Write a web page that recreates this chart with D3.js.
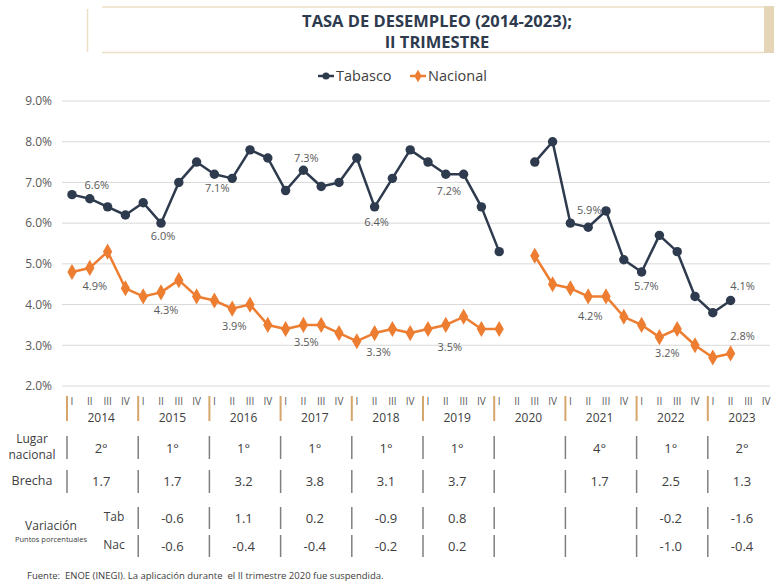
<!DOCTYPE html>
<html><head><meta charset="utf-8">
<script src="https://cdn.jsdelivr.net/npm/d3@7"></script>
<style>
html,body{margin:0;padding:0;background:#fff;}
svg{display:block;font-family:"Open Sans",sans-serif;}
</style></head>
<body><svg id="c" width="774" height="585"></svg>
<script>
// ---------------- data ----------------
const years = [2014,2015,2016,2017,2018,2019,2020,2021,2022,2023];
const quarters = ["I","II","III","IV"];
const tabasco = [
  6.7,6.6,6.4,6.2, 6.5,6.0,7.0,7.5, 7.2,7.1,7.8,7.6, 6.8,7.3,6.9,7.0,
  7.6,6.4,7.1,7.8, 7.5,7.2,7.2,6.4, 5.3,null,7.5,8.0, 6.0,5.9,6.3,5.1,
  4.8,5.7,5.3,4.2, 3.8,4.1,null,null];
const nacional = [
  4.8,4.9,5.3,4.4, 4.2,4.3,4.6,4.2, 4.1,3.9,4.0,3.5, 3.4,3.5,3.5,3.3,
  3.1,3.3,3.4,3.3, 3.4,3.5,3.7,3.4, 3.4,null,5.2,4.5, 4.4,4.2,4.2,3.7,
  3.5,3.2,3.4,3.0, 2.7,2.8,null,null];
const yTicks = [2,3,4,5,6,7,8,9];
const lugar  = ["2°","1°","1°","1°","1°","1°","","4°","1°","2°"];
const brecha = ["1.7","1.7","3.2","3.8","3.1","3.7","","1.7","2.5","1.3"];
const varTab = ["","-0.6","1.1","0.2","-0.9","0.8","","","-0.2","-1.6"];
const varNac = ["","-0.6","-0.4","-0.4","-0.2","0.2","","","-1.0","-0.4"];
const labelYears = [2014,2015,2016,2017,2018,2019,2021,2022,2023];

// label offsets (presentation only)
const tabOff = {2014:[7,-14],2015:[2,13],2016:[-15,10],2017:[3,-12],2018:[2,15],2019:[3,17],2021:[1,-17],2022:[-13,51],2023:[12,-14]};
const nacOff = {2014:[5,18],2015:[5,18],2016:[2,18],2017:[3,17],2018:[4,19],2019:[4,22],2021:[2,20],2022:[8,16],2023:[12,-17]};

// ---------------- drawing ----------------
const svg = d3.select("#c");
const TAB = "#2e3a4d", NAC = "#ed7d31", TXT = "#595959", DARK="#404040";
const keys = [];
years.forEach(y => quarters.forEach(q => keys.push(y + "-" + q)));

const x = d3.scalePoint().domain(keys).range([72, 72 + 39*17.8]);
const y = d3.scaleLinear().domain([2,9]).range([386,101]);

// title frame
const beige = "#ecdfc6";
svg.append("line").attr("x1",87.5).attr("x2",87.5).attr("y1",9).attr("y2",52).attr("stroke",beige).attr("stroke-width",1.5);
svg.append("line").attr("x1",102).attr("x2",765).attr("y1",7).attr("y2",7).attr("stroke",beige).attr("stroke-width",1.5);
svg.append("line").attr("x1",102).attr("x2",765).attr("y1",52.5).attr("y2",52.5).attr("stroke",beige).attr("stroke-width",1.5);
svg.append("rect").attr("x",764).attr("y",6).attr("width",10).attr("height",47).attr("fill","#e6d6b8");
svg.append("text").attr("x",437).attr("y",27).attr("text-anchor","middle")
  .attr("font-size",16.5).attr("font-weight","bold").attr("fill","#2e3a4d").text("TASA DE DESEMPLEO (2014-2023);");
svg.append("text").attr("x",437).attr("y",48).attr("text-anchor","middle")
  .attr("font-size",16.5).attr("font-weight","bold").attr("fill","#2e3a4d").text("II TRIMESTRE");

// legend
const leg = [{name:"Tabasco",c:TAB,sym:d3.symbolCircle,size:40,x:318},{name:"Nacional",c:NAC,sym:d3.symbolDiamond,size:45,x:410}];
leg.forEach(l => {
  const g = svg.append("g").attr("transform",`translate(${l.x},76)`);
  g.append("line").attr("x1",0).attr("x2",16).attr("stroke",l.c).attr("stroke-width",2.5);
  g.append("path").attr("d",d3.symbol(l.sym,l.size)()).attr("transform","translate(8,0)").attr("fill",l.c);
  g.append("text").attr("x",18).attr("y",0).attr("dy","0.35em").attr("font-size",14.5).attr("fill",DARK).text(l.name);
});

// grid + y axis
const yAxis = d3.axisLeft(y).tickValues(yTicks).tickSize(0).tickPadding(10)
  .tickFormat(d => d.toFixed(1) + "%");
const ga = svg.append("g").attr("transform","translate(62,0)").call(yAxis);
ga.select(".domain").remove();
ga.selectAll("text").attr("font-size",12).attr("fill",TXT).attr("font-family","Open Sans");
svg.append("g").selectAll("line").data(yTicks).join("line")
  .attr("x1",62).attr("x2",770).attr("y1",d=>y(d)).attr("y2",d=>y(d))
  .attr("stroke","#d9d9d9").attr("stroke-width",1);

// lines
function series(vals, color, sym, size){
  const pts = vals.map((v,i)=>({k:keys[i],v})).filter(d=>d.v!=null);
  const line = d3.line().defined(d=>d.v!=null).x(d=>x(d.k)).y(d=>y(d.v));
  svg.append("path").datum(vals.map((v,i)=>({k:keys[i],v})))
    .attr("d",line).attr("fill","none").attr("stroke",color).attr("stroke-width",2.5).attr("stroke-linejoin","round");
  svg.append("g").selectAll("path").data(pts).join("path")
    .attr("d",d3.symbol(sym,size)()).attr("transform",d=>`translate(${x(d.k)},${y(d.v)})`).attr("fill",color);
}
series(tabasco, TAB, d3.symbolCircle, 70);
series(nacional, NAC, d3.symbolDiamond, 75);

// data labels
function labels(vals, off){
  svg.append("g").selectAll("text").data(labelYears).join("text")
    .attr("x",yr=>x(yr+"-II")+off[yr][0])
    .attr("y",yr=>y(vals[keys.indexOf(yr+"-II")])+off[yr][1])
    .attr("dy","0.35em").attr("text-anchor","middle").attr("font-size",11).attr("fill",TXT)
    .text(yr=>vals[keys.indexOf(yr+"-II")].toFixed(1)+"%");
}
labels(tabasco, tabOff);
labels(nacional, nacOff);

// category axis: quarters + years
svg.append("g").selectAll("text").data(keys).join("text")
  .attr("x",d=>x(d)).attr("y",401).attr("dy","0.35em").attr("text-anchor","middle")
  .attr("font-size",10).attr("fill",TXT).text(d=>d.split("-")[1]);
const yc = yr => (x(yr+"-I")+x(yr+"-IV"))/2 + 2.5;
svg.append("g").selectAll("text").data(years).join("text")
  .attr("x",yc).attr("y",418).attr("dy","0.35em").attr("text-anchor","middle")
  .attr("font-size",12).attr("fill",DARK).text(d=>d);
const sepX = yr => x(yr+"-I") - 5;
svg.append("g").selectAll("line").data(years).join("line")
  .attr("x1",sepX).attr("x2",sepX).attr("y1",396).attr("y2",421)
  .attr("stroke","#d5a56b").attr("stroke-width",2);

// table rows
function row(vals, yMid, y1, y2, sepYears){
  svg.append("g").selectAll("line").data(sepYears).join("line")
    .attr("x1",sepX).attr("x2",sepX).attr("y1",y1).attr("y2",y2)
    .attr("stroke","#7f7f7f").attr("stroke-width",1.5);
  svg.append("g").selectAll("text").data(years).join("text")
    .attr("x",yc).attr("y",yMid).attr("dy","0.35em").attr("text-anchor","middle")
    .attr("font-size",13).attr("fill",DARK).text((d,i)=>vals[i]);
}
row(lugar, 448, 436, 459, years);
row(brecha, 481, 470, 493, years);
row(varTab, 518, 507, 529, years.slice(1));
row(varNac, 546, 535, 557, years.slice(1));

const lab = (t,xx,yy,fs,anchor="middle") => svg.append("text").attr("x",xx).attr("y",yy).attr("dy","0.35em")
  .attr("text-anchor",anchor).attr("font-size",fs).attr("fill",DARK).text(t);
lab("Lugar",32,439,12);
lab("nacional",32,455,12);
lab("Brecha",32,481,12.5);
lab("Tab",114,517,12);
lab("Nac",114,545,12);
lab("Variación",51,526,12);
lab("Puntos porcentuales",51,539.5,7.5);
svg.append("text").attr("x",27).attr("y",576).attr("dy","0.35em").attr("font-size",9.5).attr("fill",DARK)
  .attr("xml:space","preserve")
  .text("Fuente:  ENOE (INEGI). La aplicación durante  el II trimestre 2020 fue suspendida.");
</script></body></html>
